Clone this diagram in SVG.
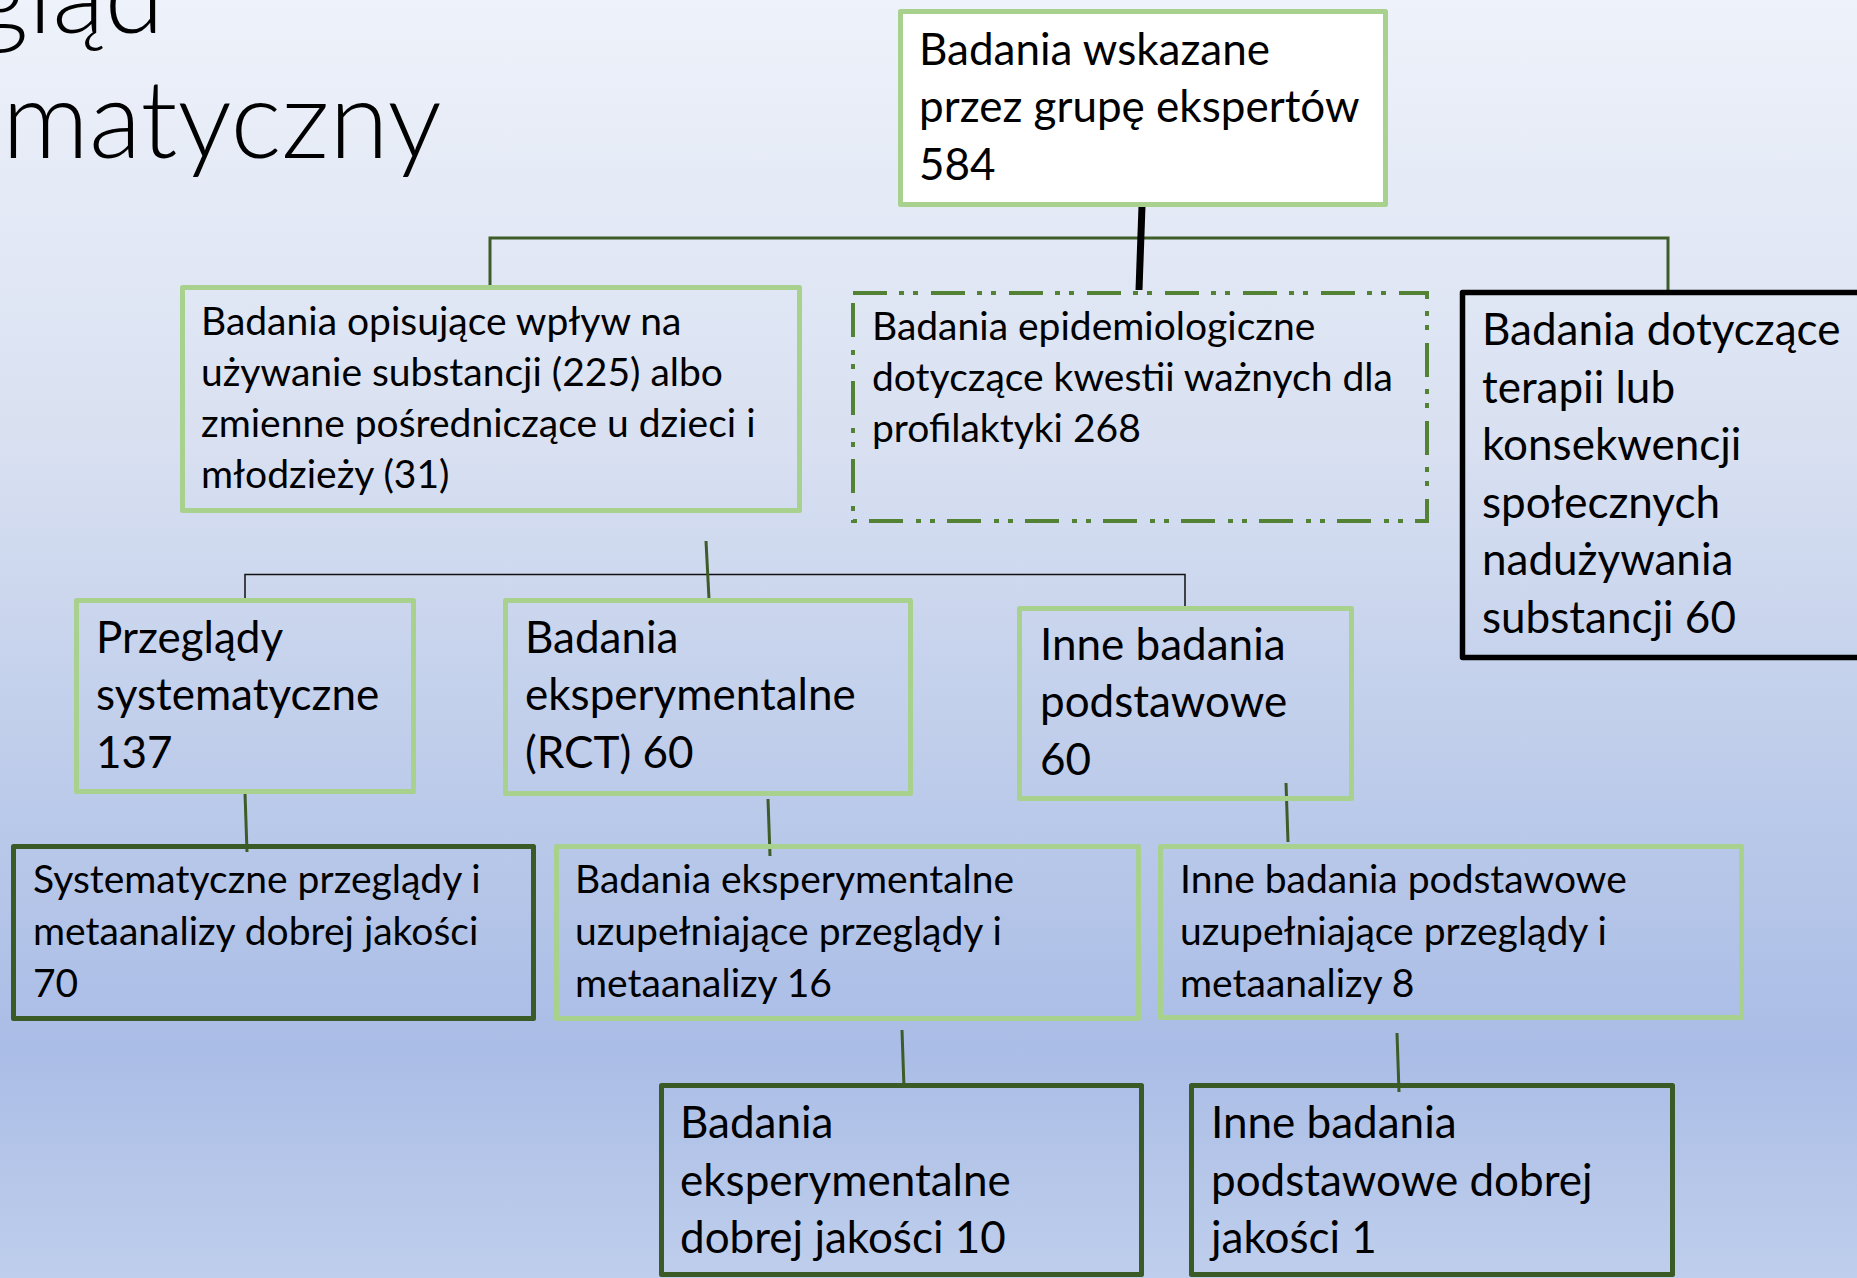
<svg xmlns="http://www.w3.org/2000/svg" width="1857" height="1278" viewBox="0 0 1857 1278">
  <defs>
    <linearGradient id="bg" x1="0" y1="0" x2="0" y2="1">
      <stop offset="0" stop-color="#eef2fa"/>
      <stop offset="0.35" stop-color="#d8e0f1"/>
      <stop offset="0.62" stop-color="#bccbea"/>
      <stop offset="0.82" stop-color="#aabde6"/>
      <stop offset="1" stop-color="#bfceec"/>
    </linearGradient>
    <style>
      text { font-family: Lato, "Liberation Sans", sans-serif; fill: #000; }
      .big { font-size: 44px; }
      .small { font-size: 39px; }
      .title { font-size: 108px; font-weight: 300; }
      .light { fill: none; stroke: #a9d18e; stroke-width: 5; stroke-linejoin: round; }
      .dark { fill: none; stroke: #3a5a26; stroke-width: 5; stroke-linejoin: round; }
      .black { fill: none; stroke: #000; stroke-width: 5.5; stroke-linejoin: round; }
      .dashed { fill: none; stroke: #548235; stroke-width: 4; stroke-dasharray: 34 12 5 9 5 13; }
      .link { fill: none; stroke: #3d5c28; stroke-width: 3; }
      .thin { fill: none; stroke: #111; stroke-width: 1.5; }
    </style>
  </defs>

  <rect x="0" y="0" width="1857" height="1278" fill="url(#bg)"/>

  <!-- slide title, partly outside the visible area -->
  <g id="title">
    <text class="title" x="164" y="33" text-anchor="end">gląd</text>
    <text class="title" x="2" y="158">matyczny</text>
  </g>

  <!-- connectors -->
  <g id="connectors">
    <path class="link" d="M490,286 V238 H1668 V291" stroke-width="3.5"/>
    <line x1="1142" y1="206" x2="1139" y2="290" stroke="#000" stroke-width="7"/>
    <path class="thin" d="M245,598 V574.5 H1185 V607"/>
    <line class="link" x1="706" y1="541" x2="709" y2="599"/>
    <line class="link" x1="245" y1="793" x2="247" y2="852"/>
    <line class="link" x1="768" y1="799" x2="770" y2="856"/>
    <line class="link" x1="1286" y1="783" x2="1288" y2="842"/>
    <line class="link" x1="902" y1="1030" x2="904" y2="1088"/>
    <line class="link" x1="1397" y1="1033" x2="1399" y2="1092"/>
  </g>

  <g id="n-root">
    <rect class="light" x="900.5" y="11.5" width="485" height="193" style="fill:#ffffff"/>
    <text class="big"><tspan x="919" y="65">Badania wskazane</tspan><tspan x="919" y="122">przez grupę ekspertów</tspan><tspan x="919" y="180">584</tspan></text>
  </g>

  <g id="n-substance">
    <rect class="light" x="182.5" y="287.5" width="617" height="223"/>
    <text class="small"><tspan x="201" y="335">Badania opisujące wpływ na</tspan><tspan x="201" y="386">używanie substancji (225) albo</tspan><tspan x="201" y="437">zmienne pośredniczące u dzieci i</tspan><tspan x="201" y="488">młodzieży (31)</tspan></text>
  </g>

  <g id="n-epidemiology">
    <rect class="dashed" x="853" y="293" width="574" height="228"/>
    <text class="small"><tspan x="872" y="340">Badania epidemiologiczne</tspan><tspan x="872" y="391">dotyczące kwestii ważnych dla</tspan><tspan x="872" y="442">profilaktyki 268</tspan></text>
  </g>

  <g id="n-therapy">
    <rect class="black" x="1462.5" y="292.5" width="430" height="365"/>
    <text class="big"><tspan x="1482" y="345">Badania dotyczące</tspan><tspan x="1482" y="403">terapii lub</tspan><tspan x="1482" y="460">konsekwencji</tspan><tspan x="1482" y="518">społecznych</tspan><tspan x="1482" y="575">nadużywania</tspan><tspan x="1482" y="633">substancji 60</tspan></text>
  </g>

  <g id="n-reviews">
    <rect class="light" x="76.5" y="600.5" width="337" height="191"/>
    <text class="big"><tspan x="96" y="653">Przeglądy</tspan><tspan x="96" y="710">systematyczne</tspan><tspan x="96" y="768">137</tspan></text>
  </g>

  <g id="n-rct">
    <rect class="light" x="505.5" y="600.5" width="405" height="193"/>
    <text class="big"><tspan x="525" y="653">Badania</tspan><tspan x="525" y="710">eksperymentalne</tspan><tspan x="525" y="768">(RCT) 60</tspan></text>
  </g>

  <g id="n-basic">
    <rect class="light" x="1019.5" y="608.5" width="332" height="190"/>
    <text class="big"><tspan x="1040" y="660">Inne badania</tspan><tspan x="1040" y="717">podstawowe</tspan><tspan x="1040" y="775">60</tspan></text>
  </g>

  <g id="n-reviews-good">
    <rect class="dark" x="13.5" y="846.5" width="520" height="172"/>
    <text class="small"><tspan x="33" y="893">Systematyczne przeglądy i</tspan><tspan x="33" y="945">metaanalizy dobrej jakości</tspan><tspan x="33" y="997">70</tspan></text>
  </g>

  <g id="n-rct-extra">
    <rect class="light" x="556.5" y="846.5" width="582" height="172"/>
    <text class="small"><tspan x="575" y="893">Badania eksperymentalne</tspan><tspan x="575" y="945">uzupełniające przeglądy i</tspan><tspan x="575" y="997">metaanalizy 16</tspan></text>
  </g>

  <g id="n-basic-extra">
    <rect class="light" x="1160.5" y="846.5" width="581" height="171"/>
    <text class="small"><tspan x="1180" y="893">Inne badania podstawowe</tspan><tspan x="1180" y="945">uzupełniające przeglądy i</tspan><tspan x="1180" y="997">metaanalizy 8</tspan></text>
  </g>

  <g id="n-rct-good">
    <rect class="dark" x="661.5" y="1085.5" width="480" height="189"/>
    <text class="big"><tspan x="680" y="1138">Badania</tspan><tspan x="680" y="1196">eksperymentalne</tspan><tspan x="680" y="1253">dobrej jakości 10</tspan></text>
  </g>

  <g id="n-basic-good">
    <rect class="dark" x="1191.5" y="1085.5" width="481" height="189"/>
    <text class="big"><tspan x="1211" y="1138">Inne badania</tspan><tspan x="1211" y="1196">podstawowe dobrej</tspan><tspan x="1211" y="1253">jakości 1</tspan></text>
  </g>
</svg>
